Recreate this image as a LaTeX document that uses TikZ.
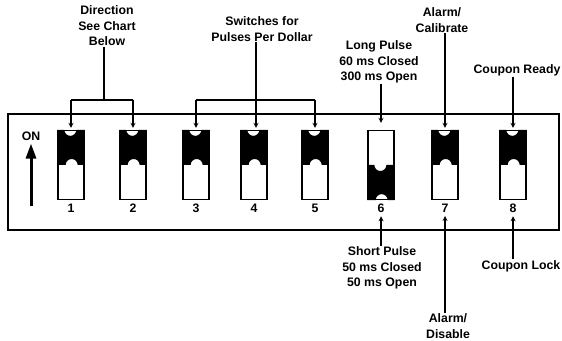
\documentclass[tikz,border=0pt]{standalone}
\usepackage{fontspec}
\setmainfont{Liberation Sans}
\usepackage{tikz}
\usetikzlibrary{positioning}
\usetikzlibrary{arrows.meta}
\def\slideron#1{\fill (#1.north west) -- ++(7pt,0) arc[start angle=180,end angle=360,radius=6pt] -- (#1.north east) -- (#1.east) -- ++(-7pt,0) arc[start angle=0,end angle=180,radius=6pt] -- (#1.west) -- cycle;}
\def\slideroff#1{\fill (#1.west) -- ++(7pt,0) arc[start angle=180,end angle=360,radius=6pt] -- (#1.east) -- (#1.south east) -- ++(-7pt,0) arc[start angle=0,end angle=180,radius=6pt] -- (#1.south west) -- cycle;}
\tikzset{
	switch/.style={rectangle,draw=black,line width=1.3pt,inner sep=0pt,minimum width=26pt,minimum height=69pt},
	lbl/.style={align=center,inner sep=1pt,font=\bfseries\fontsize{12.3}{15.5}\selectfont},
	num/.style={inner sep=1pt,font=\bfseries\fontsize{12.3}{15.5}\selectfont},
	wire/.style={line width=1.2pt},
	conn/.style={line width=1.2pt,->,shorten >=2pt},
	onarrow/.style={line width=3pt,-{Triangle[width=10pt,length=15pt]},shorten >=2pt},
	>=stealth,
	}
\begin{document}
\begin{tikzpicture}[x=1pt,y=1pt]
\useasboundingbox (0,0) rectangle (562,340);
 \draw[wire] (8,226) rectangle (559,110);

  \foreach \n/\x in {1/71,2/133,3/196,4/254,5/315,6/381,7/445,8/513}
  {\node[switch] (sw\n) at (\x,175) {};
   \node[num,below=3pt of sw\n] (n\n) {\n};}
  \foreach \n in {1,2,3,4,5,7,8} \slideron{sw\n};
  \slideroff{sw6};

\node[lbl] (on) at (31,204) {ON};
\coordinate (onbase) at (31,134);
\draw[onarrow] (onbase) -- (on.south);

\node[lbl] (dir) at (107,314) {Direction\\See Chart\\Below};
\node[lbl] (ppd) at (262,311) {Switches for\\Pulses Per Dollar};
\node[lbl] (long) at (379,278) {Long Pulse\\60 ms Closed\\300 ms Open};
\node[lbl] (cal) at (442,320) {Alarm/\\Calibrate};
\node[lbl] (ready) at (517,270) {Coupon Ready};
\node[lbl] (short) at (382,72) {Short Pulse\\50 ms Closed\\50 ms Open};
\node[lbl] (dis) at (448,14) {Alarm/\\Disable};
\node[lbl] (lock) at (521,74) {Coupon Lock};

\coordinate (dirj) at (104,240);
\draw[wire] (dir.south -| dirj) -- (dirj);
\draw[wire] (sw1 |- dirj) -- (sw2 |- dirj);
\draw[conn] (sw1 |- dirj) -- (sw1.north);
\draw[conn] (sw2 |- dirj) -- (sw2.north);

\coordinate (ppdj) at (256,240);
\draw[wire] (sw3 |- ppdj) -- (sw5 |- ppdj);
\draw[conn] (ppd.south -| ppdj) -- (ppdj |- sw4.north);
\draw[conn] (sw3 |- ppdj) -- (sw3.north);
\draw[conn] (sw5 |- ppdj) -- (sw5.north);

\draw[conn,shorten >=7pt] (long.south -| sw6) -- (sw6.north);
\draw[conn] (cal.south -| sw7) -- (sw7.north);
\draw[conn] (ready.south -| sw8) -- (sw8.north);
\draw[conn] (short.north -| n6) -- (n6.south);
\draw[conn] (dis.north -| n7) -- (n7.south);
\draw[conn] (lock.north -| n8) -- (n8.south);
\end{tikzpicture}
\end{document}
